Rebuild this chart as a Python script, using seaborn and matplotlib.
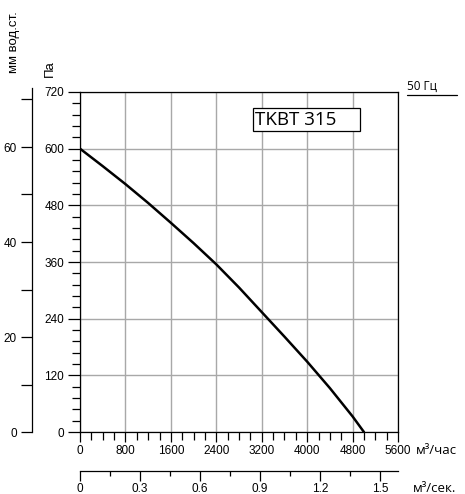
import seaborn as sns
import numpy as np
import pandas as pd
import matplotlib.pyplot as plt
from matplotlib.ticker import MultipleLocator, FixedLocator, FixedFormatter
from matplotlib.patches import Rectangle
from matplotlib.lines import Line2D

# fan curve (m3/h -> Pa)
flow_m3h = [0, 400, 800, 1200, 1600, 2000, 2400, 2800, 3200, 3600, 4000, 4400, 4800, 5000]
pressure_pa = [600, 563, 525, 485, 443, 400, 355, 306, 254, 202, 149, 93, 33, 0]

model_name = "TKBT 315"
freq_label = "50 Гц"

mm_ticks = [0, 10, 20, 30, 40, 50, 60, 70]
mm_labels = ["0", "", "20", "", "40", "", "60", ""]
m3s_ticks = [0, 0.3, 0.6, 0.9, 1.2, 1.5]
m3s_labels = ["0", "0.3", "0.6", "0.9", "1.2", "1.5"]

W, H = 465, 494
PT = 0.72  # points per pixel at 100 dpi


def px(x0, y0, x1, y1):
    """pixel box (top-left origin) -> figure fraction rect"""
    return [x0 / W, 1 - y1 / H, (x1 - x0) / W, (y1 - y0) / H]


def plot_fan_curve():
    sns.set_style("ticks")
    plt.rcParams["font.family"] = ["Liberation Sans", "DejaVu Sans"]
    plt.rcParams["axes.linewidth"] = 0.9
    for k in ["text.color", "xtick.color", "ytick.color", "axes.edgecolor"]:
        plt.rcParams[k] = "black"

    fig = plt.figure(figsize=(W / 100, H / 100), dpi=100)
    df = pd.DataFrame({"q": flow_m3h, "p": pressure_pa})

    # main chart: Pa vs m3/h
    ax = fig.add_axes(px(80, 92, 398, 432))
    sns.lineplot(data=df, x="q", y="p", ax=ax, color="black", linewidth=1.8)
    ax.set_xlim(0, 5600)
    ax.set_ylim(0, 720)
    ax.set_xlabel("")
    ax.set_ylabel("")
    ax.xaxis.set_major_locator(MultipleLocator(800))
    ax.xaxis.set_minor_locator(MultipleLocator(200))
    ax.yaxis.set_major_locator(MultipleLocator(120))
    ax.yaxis.set_minor_locator(MultipleLocator(24))
    ax.grid(True, which="major", color="#a8a8a8", linewidth=1.0)
    ax.set_axisbelow(True)
    for s in ax.spines.values():
        s.set_visible(True)
        s.set_color("black")
    ax.tick_params(axis="x", which="major", length=10 * PT, width=0.9, pad=3 * PT, labelsize=8.5)
    ax.tick_params(axis="x", which="minor", length=8 * PT, width=0.9)
    ax.tick_params(axis="y", which="major", length=12 * PT, width=0.9, pad=4 * PT, labelsize=8.5)
    ax.tick_params(axis="y", which="minor", length=8 * PT, width=0.9)

    # secondary left scale: mm water column
    axm = fig.add_axes(px(32, 88, 33, 432))
    axm.set_ylim(0, 344 / 4.75)
    axm.set_xticks([])
    for k in ["top", "right", "bottom"]:
        axm.spines[k].set_visible(False)
    axm.patch.set_visible(False)
    axm.yaxis.set_major_locator(FixedLocator(mm_ticks))
    axm.yaxis.set_major_formatter(FixedFormatter(mm_labels))
    axm.tick_params(axis="y", length=11 * PT, width=0.9, pad=4 * PT, labelsize=8.5)

    # secondary bottom scale: m3/s
    axs = fig.add_axes(px(80, 470, 398, 470.5))
    axs.set_xlim(0, 1.59)
    axs.set_yticks([])
    for k in ["top", "right", "left"]:
        axs.spines[k].set_visible(False)
    axs.patch.set_visible(False)
    axs.xaxis.set_major_locator(FixedLocator(m3s_ticks))
    axs.xaxis.set_major_formatter(FixedFormatter(m3s_labels))
    axs.xaxis.set_minor_locator(MultipleLocator(0.15))
    axs.tick_params(axis="x", which="major", length=10 * PT, width=0.9, pad=2 * PT, labelsize=8.5)
    axs.tick_params(axis="x", which="minor", length=5 * PT, width=0.9)

    # labels
    fig.text(14 / W, 1 - 42 / H, "мм вод.ст.", rotation=90, ha="center", va="center", fontsize=9.5)
    fig.text(50 / W, 1 - 69 / H, "Па", rotation=90, ha="center", va="center", fontsize=9.5)
    fig.text(416 / W, 1 - 450 / H, "м³/час", ha="left", va="center", fontsize=9.5,
             family=["Open Sans", "DejaVu Sans"])
    fig.text(413 / W, 1 - 488 / H, "м³/сек.", ha="left", va="center", fontsize=9.5,
             family=["Open Sans", "DejaVu Sans"])

    # frequency label with underline
    fig.text(407 / W, 1 - 86 / H, freq_label, ha="left", va="center", fontsize=8.5,
             family=["Open Sans", "DejaVu Sans"])
    fig.add_artist(Line2D([407 / W, 457 / W], [1 - 95 / H, 1 - 95 / H],
                          color="black", linewidth=0.9, transform=fig.transFigure))

    # model box
    fig.add_artist(Rectangle((253 / W, 1 - 131.5 / H), 107 / W, 23.5 / H, fill=True,
                             facecolor="white", edgecolor="black", linewidth=0.9,
                             transform=fig.transFigure))
    fig.text(255 / W, 1 - 120 / H, model_name, ha="left", va="center", fontsize=13.5,
             family=["Open Sans", "DejaVu Sans"])

    fig.savefig("out.png", dpi=100)


if __name__ == "__main__":
    plot_fan_curve()
